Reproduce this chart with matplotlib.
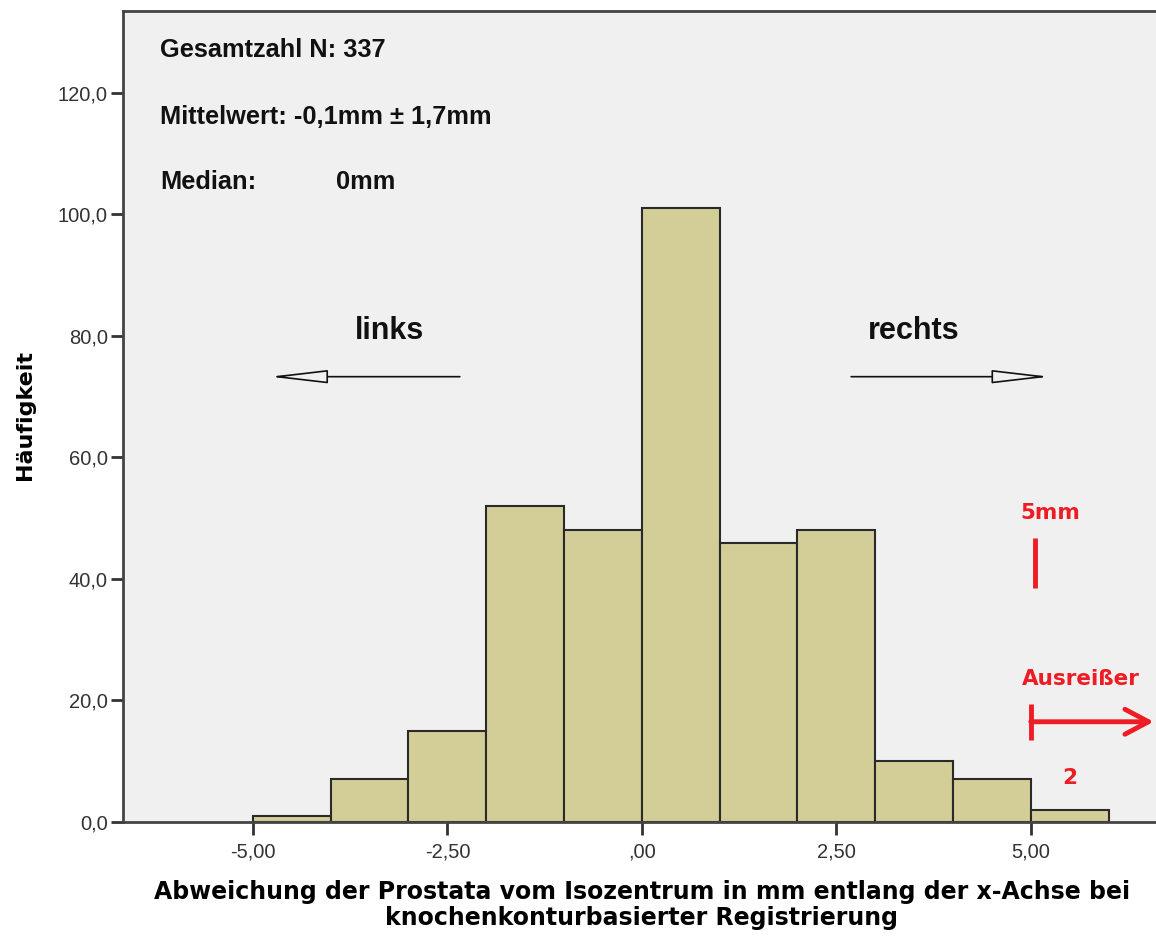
import matplotlib.pyplot as plt
import numpy as np

# Histogram of lateral prostate shift (mm), 1 mm bins
bin_edges = [-5, -4, -3, -2, -1, 0, 1, 2, 3, 4, 5, 6]
counts = [1, 7, 15, 52, 48, 101, 46, 48, 10, 7, 2]

xticks = [-5.0, -2.5, 0.0, 2.5, 5.0]
xtick_labels = ['-5,00', '-2,50', ',00', '2,50', '5,00']
yticks = [0, 20, 40, 60, 80, 100, 120]
ytick_labels = ['0,0', '20,0', '40,0', '60,0', '80,0', '100,0', '120,0']

stats_lines = ['Gesamtzahl N: 337', 'Mittelwert: -0,1mm \u00b1 1,7mm', 'Median:']
median_text = '0mm'

bar_color = '#D3CE97'
red = '#EE1C24'

fig = plt.figure(figsize=(11.56, 9.36), dpi=100)
ax = fig.add_axes([0.1064, 0.1218, 0.897, 0.8665])
ax.set_facecolor('#F0F0F0')

lefts = np.array(bin_edges[:-1])
widths = np.diff(bin_edges)
ax.bar(lefts, counts, width=widths, align='edge', color=bar_color,
       edgecolor='#2a2a2a', linewidth=1.5, zorder=2)

ax.set_xlim(-6.67, 6.66)
ax.set_ylim(0, 133.5)

ax.set_xticks(xticks)
ax.set_xticklabels(xtick_labels)
ax.set_yticks(yticks)
ax.set_yticklabels(ytick_labels)
ax.tick_params(axis='both', labelsize=14.5, labelcolor='#333333', color='#333333',
               length=9, width=2)
ax.tick_params(axis='x', pad=6)
ax.tick_params(axis='y', pad=2)
for lab in ax.get_xticklabels() + ax.get_yticklabels():
    lab.set_family('Liberation Sans')

for side in ['left', 'top', 'bottom']:
    ax.spines[side].set_color('#444444')
    ax.spines[side].set_linewidth(2)
ax.spines['right'].set_visible(False)

ax.set_xlabel('Abweichung der Prostata vom Isozentrum in mm entlang der x-Achse bei\n'
              'knochenkonturbasierter Registrierung',
              family='DejaVu Sans', weight='bold', fontsize=17, linespacing=1.1)
ax.xaxis.set_label_coords(0.5005, -0.072)
ax.set_ylabel('Häufigkeit', family='DejaVu Sans', weight='bold', fontsize=16)
ax.yaxis.set_label_coords(-0.085, 0.502)

# summary statistics
txt = dict(family='Liberation Sans', weight='bold', fontsize=18.3, va='center', color='#111111')
for y, s in zip([127.1, 116.0, 105.3], stats_lines):
    ax.text(-6.195, y, s, **txt)
ax.text(-3.93, 105.3, median_text, **txt)

# direction labels with open arrows
dir_txt = dict(family='Liberation Sans', weight='bold', fontsize=22, ha='center',
               va='center', color='#111111')
ax.text(-3.24, 80.8, 'links', **dir_txt)
ax.text(3.50, 80.8, 'rechts', **dir_txt)
arrow = dict(arrowstyle='-|>,head_length=3.6,head_width=0.42', lw=1.2,
             color='#111111', fc='#F0F0F0', shrinkA=0, shrinkB=0)
ax.annotate('', xy=(-4.78, 73.3), xytext=(-2.34, 73.3), arrowprops=arrow)
ax.annotate('', xy=(5.24, 73.3), xytext=(2.69, 73.3), arrowprops=arrow)

# outlier marks
red_txt = dict(family='DejaVu Sans', weight='bold', fontsize=15.5, color=red,
               ha='center', va='center')
ax.text(5.245, 50.9, '5mm', **red_txt)
ax.plot([5.05, 5.05], [38.5, 46.7], color=red, lw=3.5, solid_capstyle='butt')
ax.text(5.64, 23.5, 'Ausreißer', **red_txt)
ax.plot([5.0, 5.0], [13.5, 19.4], color=red, lw=3.5, solid_capstyle='butt')
ax.annotate('', xy=(6.58, 16.5), xytext=(5.0, 16.5),
            arrowprops=dict(arrowstyle='->,head_length=1.7,head_width=0.9',
                            color=red, lw=3.5, shrinkA=0, shrinkB=0))
ax.text(5.5, 7.2, '2', **red_txt)

fig.savefig('out.png', dpi=100, facecolor='white')
